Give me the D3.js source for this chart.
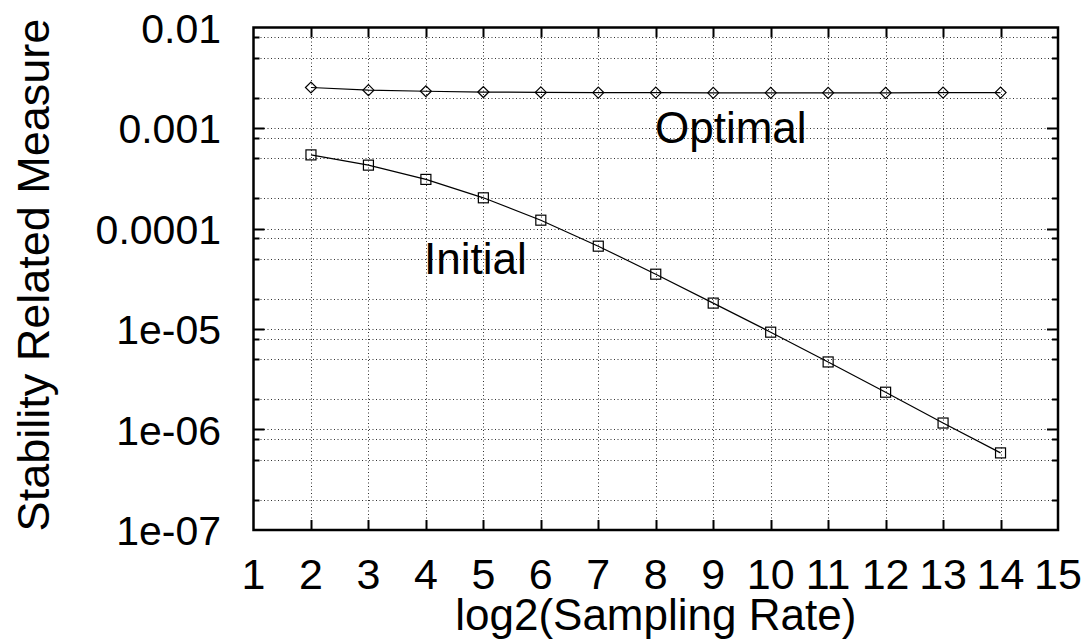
<!DOCTYPE html>
<html>
<head>
<meta charset="utf-8">
<script src="https://cdn.jsdelivr.net/npm/d3@7"></script>
<style>
  html, body { margin: 0; padding: 0; background: #fff; }
  text { font-family: "Liberation Sans", Arial, Helvetica, sans-serif; fill: #000; }
</style>
</head>
<body>
<script>
var sampleX = [2, 3, 4, 5, 6, 7, 8, 9, 10, 11, 12, 13, 14];
var initialValues = [5.4e-4, 4.27e-4, 3.08e-4, 2.02e-4, 1.21e-4, 6.67e-5, 3.51e-5,
                     1.81e-5, 9.3e-6, 4.7e-6, 2.35e-6, 1.16e-6, 5.85e-7];
var optimalValues = [2.53e-3, 2.38e-3, 2.32e-3, 2.28e-3, 2.26e-3, 2.25e-3, 2.25e-3,
                     2.24e-3, 2.24e-3, 2.24e-3, 2.24e-3, 2.25e-3, 2.25e-3];

var xTicks = [1, 2, 3, 4, 5, 6, 7, 8, 9, 10, 11, 12, 13, 14, 15];
var yTicks = [0.01, 0.001, 0.0001, 1e-5, 1e-6, 1e-7];
var yTickLabels = ['0.01', '0.001', '0.0001', '1e-05', '1e-06', '1e-07'];
var yMinorMult = [0.8, 0.5, 0.2];

drawChart();

function drawChart() {
  var W = 1087, H = 644;
  var pLeft = 253.5, pRight = 1058, pTop = 27.5, pBottom = 530;

  var svg = d3.select('body').append('svg')
    .attr('width', W)
    .attr('height', H);

  svg.append('rect').attr('width', W).attr('height', H).attr('fill', '#fff');

  var x = d3.scaleLinear().domain([1, 15]).range([pLeft, pRight]);
  var y = d3.scaleLog().domain([1e-7, 0.01]).range([pBottom, pTop]);

  var minorTicks = [];
  yTicks.forEach(function(t) {
    if (t > 1e-7) yMinorMult.forEach(function(m) { minorTicks.push(t * m); });
  });

  // grid
  var grid = svg.append('g').attr('stroke', '#000').attr('stroke-width', 1)
    .attr('stroke-dasharray', '1,2.5').attr('opacity', 0.8);

  grid.selectAll('.gx')
    .data(xTicks.slice(1, -1))
    .enter()
    .append('line')
      .attr('x1', function(d) { return Math.round(x(d)) + 0.5; })
      .attr('x2', function(d) { return Math.round(x(d)) + 0.5; })
      .attr('y1', pTop)
      .attr('y2', pBottom);

  grid.selectAll('.gy')
    .data(yTicks.slice(1, -1).concat(minorTicks))
    .enter()
    .append('line')
      .attr('x1', pLeft)
      .attr('x2', pRight)
      .attr('y1', function(d) { return Math.round(y(d)) + 0.5; })
      .attr('y2', function(d) { return Math.round(y(d)) + 0.5; });

  // tick marks on all four sides
  var ticks = svg.append('g').attr('stroke', '#000').attr('stroke-width', 2);

  ticks.selectAll('.xt')
    .data(xTicks.slice(1, -1))
    .enter()
    .append('path')
      .attr('d', function(d) {
        var px = Math.round(x(d)) + 0.5;
        return 'M' + px + ',' + pBottom + 'v-10M' + px + ',' + pTop + 'v10';
      });

  ticks.selectAll('.yt')
    .data(yTicks.slice(1, -1))
    .enter()
    .append('path')
      .attr('d', function(d) {
        var py = Math.round(y(d)) + 0.5;
        return 'M' + pLeft + ',' + py + 'h11M' + pRight + ',' + py + 'h-11';
      });

  ticks.selectAll('.ym')
    .data(minorTicks)
    .enter()
    .append('path')
      .attr('d', function(d) {
        var py = Math.round(y(d)) + 0.5;
        return 'M' + pLeft + ',' + py + 'h6M' + pRight + ',' + py + 'h-6';
      });

  // border
  svg.append('rect')
    .attr('x', pLeft)
    .attr('y', pTop)
    .attr('width', pRight - pLeft)
    .attr('height', pBottom - pTop)
    .attr('fill', 'none')
    .attr('stroke', '#000')
    .attr('stroke-width', 2.5);

  // series lines
  var line = d3.line()
    .x(function(d) { return x(d[0]); })
    .y(function(d) { return y(d[1]); });

  var initialPts = sampleX.map(function(v, i) { return [v, initialValues[i]]; });
  var optimalPts = sampleX.map(function(v, i) { return [v, optimalValues[i]]; });

  [initialPts, optimalPts].forEach(function(pts) {
    svg.append('path')
      .attr('d', line(pts))
      .attr('fill', 'none')
      .attr('stroke', '#000')
      .attr('stroke-width', 1.2);
  });

  // markers
  svg.append('g').selectAll('.sq')
    .data(initialPts)
    .enter()
    .append('rect')
      .attr('x', function(d) { return x(d[0]) - 5; })
      .attr('y', function(d) { return y(d[1]) - 5; })
      .attr('width', 10)
      .attr('height', 10)
      .attr('fill', 'none')
      .attr('stroke', '#000')
      .attr('stroke-width', 1.2);

  svg.append('g').selectAll('.dm')
    .data(optimalPts)
    .enter()
    .append('path')
      .attr('d', function(d) {
        var cx = x(d[0]), cy = y(d[1]), r = 5.5;
        return 'M' + (cx - r) + ',' + cy + 'L' + cx + ',' + (cy - r) +
               'L' + (cx + r) + ',' + cy + 'L' + cx + ',' + (cy + r) + 'Z';
      })
      .attr('fill', 'none')
      .attr('stroke', '#000')
      .attr('stroke-width', 1.2);

  // tick labels
  svg.append('g').selectAll('.xl')
    .data(xTicks)
    .enter()
    .append('text')
      .text(function(d) { return d; })
      .attr('x', function(d) { return x(d); })
      .attr('y', 589)
      .attr('text-anchor', 'middle')
      .style('font-size', '43px');

  svg.append('g').selectAll('.yl')
    .data(yTicks)
    .enter()
    .append('text')
      .text(function(d, i) { return yTickLabels[i]; })
      .attr('x', 221)
      .attr('y', function(d) { return y(d) + 15; })
      .attr('text-anchor', 'end')
      .style('font-size', '41px');

  // axis titles
  svg.append('text')
    .text('log2(Sampling Rate)')
    .attr('x', (pLeft + pRight) / 2)
    .attr('y', 630)
    .attr('text-anchor', 'middle')
    .style('font-size', '44px');

  svg.append('text')
    .text('Stability Related Measure')
    .attr('transform', 'translate(49,275) rotate(-90)')
    .attr('text-anchor', 'middle')
    .style('font-size', '45px');

  // series labels
  svg.append('text')
    .text('Optimal')
    .attr('x', 655)
    .attr('y', 143)
    .style('font-size', '44px');

  svg.append('text')
    .text('Initial')
    .attr('x', 424)
    .attr('y', 274)
    .style('font-size', '44px');
}
</script>
</body>
</html>
